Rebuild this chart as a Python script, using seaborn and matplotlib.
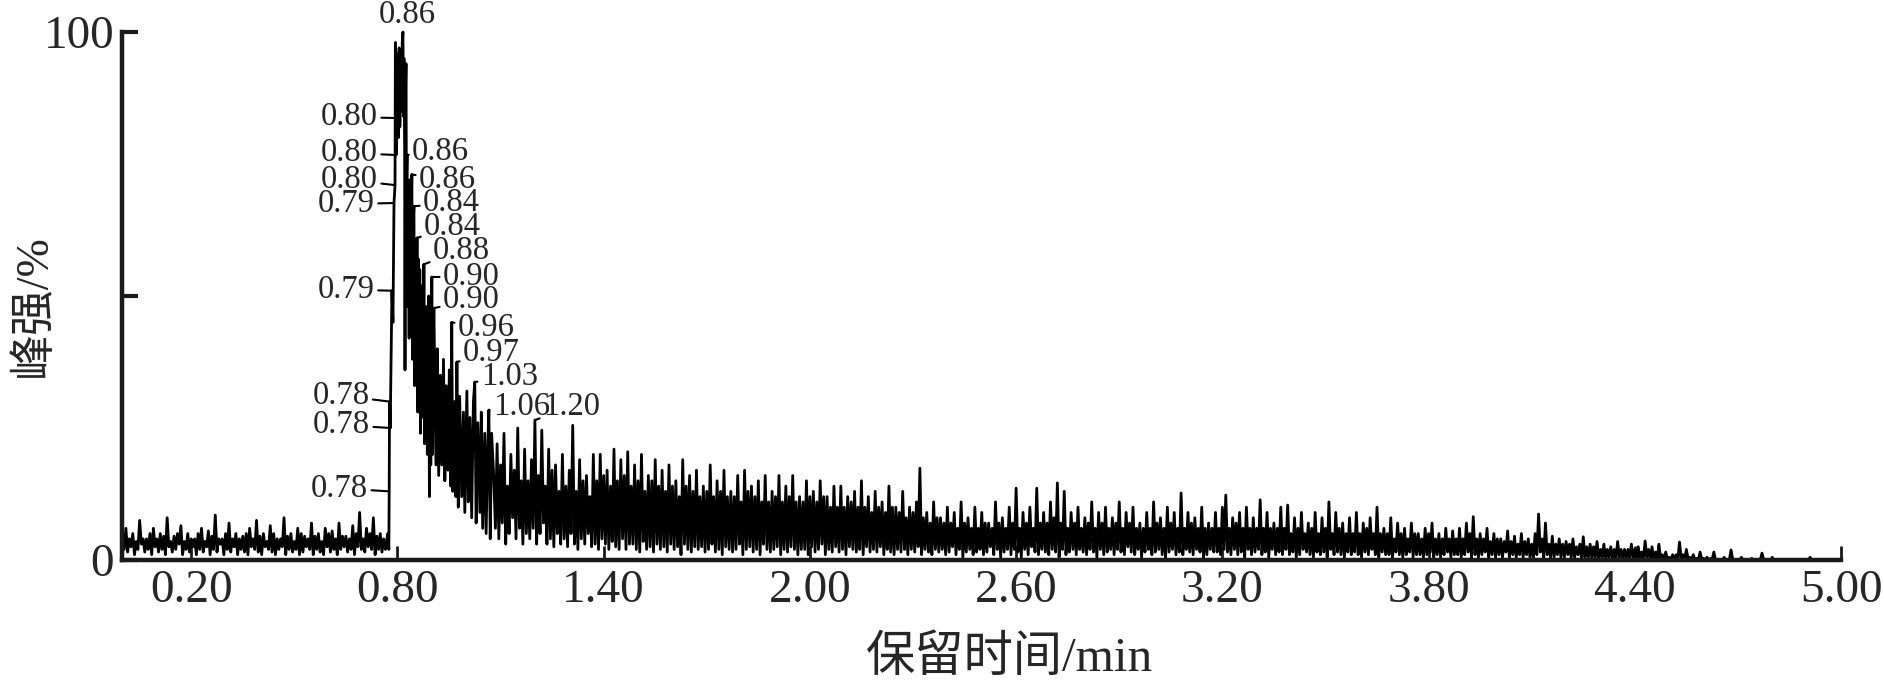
import numpy as np
import pandas as pd
import matplotlib
matplotlib.use("Agg")
from matplotlib import pyplot as plt
import seaborn as sns

# scans come in high/low pairs, one pair every STEP min (low point half a step later)
STEP = 0.01

# 0.00 - 0.765 min : baseline before the peak
pre_high = [
    4.5, 6, 4, 5, 3.5, 7.5, 4, 4, 5, 6,
    4, 5, 4.5, 8, 3.5, 4.5, 5, 6.5, 3.5, 5,
    4, 4, 5, 6, 3.5, 5.5, 4.5, 8.5, 4, 4,
    5, 7, 4, 5, 4, 4.5, 5, 6, 4, 7.5,
    4.5, 5, 3.5, 6.5, 5, 4, 4, 8, 4.5, 5,
    3.5, 6, 5, 4.5, 4, 7, 4.5, 5, 3.5, 6,
    5, 5.5, 4, 7, 4.5, 4.5, 4, 6.5, 5, 9,
    4, 6, 5, 8, 4.5, 5, 4,
]
pre_low = [
    2, 1.5, 2.5, 1, 2, 3, 1.5, 2, 1, 2.5,
    1.5, 2, 1, 2.5, 1.5, 2, 3, 1, 2, 1.5,
    2.5, 1, 2, 1.5, 2.5, 1, 2, 1.5, 3, 1,
    2, 1.5, 2.5, 1, 2, 1.5, 1, 2.5, 2, 1.5,
    1, 2.5, 2, 1.5, 1, 2, 2.5, 1, 2, 1.5,
    2, 1, 1.5, 2.5, 2, 1, 2, 1.5, 1, 2.5,
    1.5, 2, 1, 2, 2.5, 1.5, 2, 1, 2.5, 2,
    1.5, 2.5, 2, 1, 2, 1.5, 2,
]

# 0.767 - 1.074 min : main peak, read point by point
peak_times = [
    0.767, 0.772, 0.775, 0.776, 0.777, 0.779, 0.784, 0.787, 0.790, 0.793,
    0.794, 0.796, 0.799, 0.801, 0.803, 0.805, 0.807, 0.810, 0.812, 0.814,
    0.816, 0.818, 0.819, 0.821, 0.822, 0.824, 0.825, 0.826, 0.828, 0.830,
    0.832, 0.834, 0.836, 0.838, 0.840, 0.842, 0.844, 0.846, 0.848, 0.850,
    0.852, 0.854, 0.857, 0.859, 0.861, 0.863, 0.865, 0.867, 0.869, 0.871,
    0.873, 0.875, 0.877, 0.879, 0.881, 0.883, 0.885, 0.887, 0.889, 0.891,
    0.893, 0.895, 0.897, 0.900, 0.902, 0.904, 0.906, 0.912, 0.916, 0.920,
    0.925, 0.929, 0.934, 0.938, 0.942, 0.947, 0.951, 0.955, 0.958, 0.961,
    0.966, 0.970, 0.973, 0.977, 0.981, 0.987, 0.992, 0.996, 1.002, 1.006,
    1.011, 1.016, 1.021, 1.025, 1.029, 1.034, 1.040, 1.044, 1.048, 1.054,
    1.058, 1.063, 1.066, 1.070, 1.074,
]
peak_values = [
    3, 5, 2, 13, 30, 25, 51, 45, 67.6, 71,
    98, 76.7, 83.7, 96, 80, 97, 82, 92, 85, 98,
    100, 84, 95, 78, 36, 90, 94, 70, 76.7, 48,
    70, 42, 72, 45, 68, 73, 38, 64, 67, 33,
    58, 40, 61, 28, 57, 30, 55, 24, 50, 27,
    52, 30, 56, 22, 46, 26, 48, 20, 44, 50,
    12, 42, 18, 53.6, 20, 40, 47.7, 18, 40, 16,
    35, 18, 38, 15, 33, 17, 36, 14, 45, 13,
    30, 12, 37.5, 10, 31, 12, 28, 9, 32, 11,
    27, 8, 30, 33.7, 7, 26, 9, 28, 6, 24,
    5, 22, 28.4, 4, 24,
]

# 1.08 - 5.00 min : tail
TAIL_START = 1.08
tail_high = [
    16, 22, 18, 24, 14, 20, 17, 25, 15, 21,
    15, 19, 26.5, 16, 24.6, 14, 21, 17, 18, 13,
    20, 14, 17, 25.5, 13, 19, 15, 16, 12, 20,
    15, 20, 16, 17, 14, 21, 15, 19, 16, 20.5,
    14, 18, 15, 20, 13, 16, 15, 19, 14, 17,
    13, 18, 14, 15, 12, 19, 14, 16, 13, 17,
    12, 14, 13, 18, 12, 15, 13, 17, 12, 13,
    12, 16, 11, 17, 13, 14, 12, 15, 11, 16,
    11, 13, 12, 16, 11, 14, 12, 16, 11, 12,
    11, 15, 12, 13, 11, 15, 12, 12, 10, 14,
    10, 14, 10, 12, 11, 13, 10, 15, 10, 12,
    9, 13, 10, 11, 9, 14, 10, 10, 9, 13,
    8, 10, 9, 11, 17.4, 8, 9, 7, 11, 8,
    8, 7, 10, 7, 9, 6, 11, 7, 8, 6,
    10, 6, 9, 7, 7, 6, 11, 7, 8, 6,
    10, 7, 13.6, 6, 9, 7, 10, 6, 13.6, 7,
    9, 7, 11, 8, 14.6, 7, 13, 6, 9, 7,
    10, 6, 8, 7, 11, 6, 9, 7, 10, 6,
    8, 7, 11, 6, 9, 7, 10, 6, 7, 6,
    9, 6, 11, 7, 8, 6, 10, 7, 9, 6,
    12.7, 6, 9, 7, 8, 6, 10, 6, 7, 6,
    9, 6, 10, 12.3, 6, 8, 7, 9, 6, 10,
    6, 8, 6, 11.4, 6, 9, 6, 7, 6, 10,
    6, 10.4, 5, 8, 6, 9, 5, 7, 6, 9,
    5, 8, 6, 11, 5, 9, 6, 7, 5, 8,
    5, 9, 5, 7, 6, 8, 5, 10, 5, 6,
    5, 8, 4, 7, 5, 6, 4, 7, 5, 5,
    4, 6, 5, 7, 4, 5, 4, 6, 4, 5.5,
    4, 6, 4, 7, 5, 8.2, 4, 5, 4, 6,
    3.5, 5, 4, 4, 3.5, 5.5, 3.5, 4.5, 3, 5,
    3.5, 4, 3, 5, 8.7, 4, 7, 3, 4.5, 3,
    4, 3, 3.5, 3, 4, 2.5, 3, 4.4, 2.5, 3,
    2.5, 3.5, 2, 3, 2, 2.5, 2, 3.5, 2, 2,
    2, 3, 2, 2.5, 1.5, 3.6, 2, 2.5, 1.5, 3,
    1, 1.5, 0.5, 1, 1, 3.4, 1, 2, 0.5, 1,
    0.3, 1.5, 0.3, 0.5, 0.3, 1.5, 0, 0, 0.5, 0,
    1.9, 0, 0, 0.5, 0, 0, 0.3, 0, 0, 1.3,
    0, 0, 0.5, 0, 0, 0, 0, 0, 0, 0,
    0, 0, 0, 0.5, 0, 0, 0, 0, 0, 0,
    0, 0, 0,
]
tail_low = [
    6, 4, 7, 3, 5, 8, 4, 6, 3, 5,
    4, 6, 3, 5, 7, 3, 4, 2.5, 5, 3,
    4, 2.5, 5, 3, 2, 4, 3, 5, 2.5, 3,
    2, 4, 3, 2, 3.5, 2.5, 2, 4, 2, 3,
    3, 2, 1.5, 3.5, 2, 2.5, 1.5, 3, 2, 2.5,
    1.5, 3, 2, 2.5, 1, 3, 2, 1.5, 2.5, 2,
    2.5, 1.5, 2, 3, 1.5, 2, 1, 2.5, 2, 1.5,
    2, 3, 1, 2, 2.5, 1.5, 2, 1, 3, 2,
    1.5, 2, 2.5, 1, 2, 1.5, 2.5, 2, 1, 2,
    2, 1, 2.5, 1.5, 2, 3, 1, 2, 1.5, 2.5,
    1.5, 2, 1, 2.5, 2, 1.5, 2, 1, 2.5, 1.5,
    2, 1.5, 2.5, 1, 2, 1.5, 1, 2, 1.5, 2,
    1, 2, 1.5, 2.5, 1, 2, 1.5, 1, 2, 1.5,
    2, 1, 1.5, 2.5, 1, 2, 0.5, 1.5, 2, 1,
    1.5, 2, 1, 1.5, 2.5, 1, 2, 0.5, 1.5, 2,
    1, 2, 1.5, 0.5, 2, 1, 2.5, 1.5, 1, 2,
    1.5, 1, 2, 1.5, 0.5, 2, 1, 1.5, 2, 1,
    2, 1.5, 1, 2, 1.5, 0.5, 2, 1, 1.5, 2,
    1, 2, 1.5, 1, 2.5, 1.5, 1, 2, 0.5, 1.5,
    2, 1, 1.5, 2, 1, 0.5, 1.5, 2, 1, 1.5,
    1, 2, 1.5, 1, 2, 1.5, 0.5, 1, 2, 1.5,
    1.5, 1, 2, 1.5, 1, 2, 1, 1.5, 0.5, 2,
    1, 1.5, 2, 1, 1.5, 0.5, 2, 1, 1.5, 1,
    2, 1, 1.5, 0.5, 1, 2, 1.5, 1, 0.5, 1.5,
    1, 1.5, 0.5, 2, 1, 1.5, 1, 0.5, 1.5, 1,
    1.5, 1, 0.5, 1.5, 1, 2, 1, 0.5, 1.5, 1,
    1, 0.5, 1.5, 1, 0.5, 1, 1.5, 0.5, 1, 1,
    0.5, 1, 1.5, 0.5, 1, 0.5, 1, 1.5, 0.5, 1,
    1, 0.5, 1, 1.5, 0.5, 1, 0.5, 1, 1.5, 0.5,
    1, 0.5, 1, 0.5, 1.5, 0.5, 1, 0.5, 1, 0.5,
    1, 0.5, 0.5, 1, 1.5, 0.5, 1, 0.5, 0.5, 1,
    0.5, 0.5, 1, 0.5, 0.5, 1, 0.3, 0.5, 0.5, 0.3,
    0.5, 0.3, 0.5, 0.2, 0.5, 0.3, 0.2, 0.5, 0.3, 0.2,
    0.3, 0.5, 0.2, 0.3, 0.2, 0.5, 0.2, 0.3, 0.2, 0.3,
    0.2, 0, 0, 0.2, 0, 0.3, 0, 0.2, 0, 0,
    0, 0, 0, 0, 0, 0, 0, 0, 0, 0,
    0, 0, 0, 0, 0, 0, 0, 0, 0, 0,
    0, 0, 0, 0, 0, 0, 0, 0, 0, 0,
    0, 0, 0, 0, 0, 0, 0, 0, 0, 0,
    0, 0,
]

# peak labels (retention time text, anchored on the trace)
top_label, top_time, top_height = "0.86", 0.816, 100
left_labels = ["0.80", "0.80", "0.80", "0.79", "0.79", "0.78", "0.78", "0.78"]
left_times = [0.799, 0.796, 0.793, 0.790, 0.784, 0.777, 0.779, 0.776]
left_heights = [83.7, 76.7, 71, 67.6, 51, 30, 25, 13]
right_labels = ["0.86", "0.86", "0.84", "0.84", "0.88", "0.90", "0.90",
                "0.96", "0.97", "1.03", "1.06", "1.20"]
right_times = [0.828, 0.842, 0.848, 0.857, 0.877, 0.900, 0.906,
               0.958, 0.973, 1.025, 1.066, 1.20]
right_heights = [76.7, 73, 67, 61, 56, 53.6, 47.7, 45, 37.5, 33.7, 28.4, 26.5]

x_ticks = [0.2, 0.8, 1.4, 2.0, 2.6, 3.2, 3.8, 4.4, 5.0]
x_ticklabels = ["0.20", "0.80", "1.40", "2.00", "2.60", "3.20", "3.80", "4.40", "5.00"]
y_ticks = [0, 50, 100]
y_ticklabels = ["0", "", "100"]

# text offsets in pixels (layout only)
left_offsets = [(-19, 1), (-18, 2), (-17, 5), (-19, -1), (-17, 1), (-20, 6), (-20, 3), (-21, 3)]
right_offsets = [(5, 3), (7, -5), (9, 3), (7, 11), (9, 14), (11, 0), (9, 8),
                 (6, -5), (6, 9), (6, 5), (4, 3), (8, 13)]

sns.set_style("ticks")
plt.rcParams['font.family'] = ['Liberation Serif', 'Noto Sans CJK SC']
plt.rcParams['axes.unicode_minus'] = False

pre_th = np.arange(len(pre_high)) * STEP
pre_tl = np.arange(len(pre_low)) * STEP + STEP / 2
tail_th = TAIL_START + np.arange(len(tail_high)) * STEP
tail_tl = TAIL_START + np.arange(len(tail_low)) * STEP + STEP / 2
df = pd.DataFrame({
    "t": np.concatenate([pre_th, pre_tl, peak_times, tail_th, tail_tl]),
    "v": np.concatenate([pre_high, pre_low, peak_values, tail_high, tail_low]),
}).sort_values("t")

fig = plt.figure(figsize=(18.84, 6.86), dpi=100)
ax = fig.add_axes([0.0650, 0.1837, 0.9122, 0.7697])

sns.lineplot(data=df, x="t", y="v", color="black", lw=2.0, estimator=None, ax=ax)
for ln in ax.lines:
    ln.set_clip_on(False)

ax.set_xlim(0, 5.0)
ax.set_ylim(0, 100)
ax.set_xticks(x_ticks)
ax.set_xticklabels(x_ticklabels)
ax.set_yticks(y_ticks)
ax.set_yticklabels(y_ticklabels)

for s in ['top', 'right']:
    ax.spines[s].set_visible(False)
for s in ['left', 'bottom']:
    ax.spines[s].set_linewidth(3.2)
    ax.spines[s].set_color('#1a1a1a')
    ax.spines[s].set_zorder(5)

ax.tick_params(axis='x', direction='in', length=10, width=2, pad=7,
               labelsize=34, color='#1a1a1a')
ax.tick_params(axis='y', direction='in', length=11.5, width=3, pad=6,
               labelsize=34, color='#1a1a1a')

ax.set_xlabel("保留时间/min", fontsize=35.5, va='center')
ax.xaxis.set_label_coords(0.516, -0.186)
ax.set_ylabel("峰强/%", fontsize=33, va='center')
ax.yaxis.set_label_coords(-0.051, 0.481)

# peak annotations
ax.annotate(top_label, xy=(top_time, top_height), xytext=(4, 17),
            textcoords='offset pixels', ha='center', va='center', fontsize=23.5)
for lab, t, h, (dx, dy) in zip(left_labels, left_times, left_heights, left_offsets):
    ax.annotate(lab, xy=(t, h), xytext=(dx, dy), textcoords='offset pixels',
                ha='right', va='center', fontsize=23.5,
                arrowprops=dict(arrowstyle='-', lw=1.5, color='black', shrinkA=0, shrinkB=0))
for lab, t, h, (dx, dy) in zip(right_labels, right_times, right_heights, right_offsets):
    ax.annotate(lab, xy=(t, h), xytext=(dx, dy), textcoords='offset pixels',
                ha='left', va='center', fontsize=23.5,
                arrowprops=dict(arrowstyle='-', lw=1.5, color='black', shrinkA=0, shrinkB=0))

fig.savefig("out.png", dpi=100)
plt.close(fig)
